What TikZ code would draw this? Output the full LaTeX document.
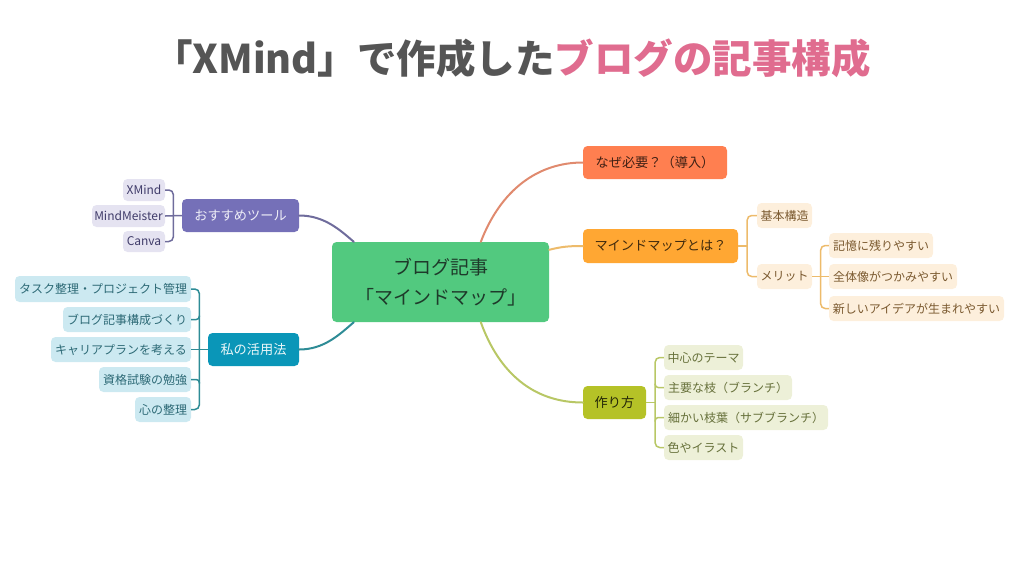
\documentclass[tikz,border=0pt]{standalone}
\usepackage{fontspec}
\setmainfont{Noto Sans CJK JP}
\usetikzlibrary{calc}
\definecolor{ttlgrey}{HTML}{555555}
\definecolor{ttlpink}{HTML}{E06C8F}
\definecolor{cfill}{HTML}{52C97F}
\definecolor{ctext}{HTML}{1E3A2A}
\definecolor{redf}{HTML}{FF7F50}
\definecolor{redl}{HTML}{E08A6E}
\definecolor{ambf}{HTML}{FFA733}
\definecolor{ambl}{HTML}{EDBB6B}
\definecolor{ambs}{HTML}{FDEFDC}
\definecolor{ambt}{HTML}{7B5A30}
\definecolor{olvf}{HTML}{B5C227}
\definecolor{olvl}{HTML}{B8C765}
\definecolor{olvs}{HTML}{EDF0D8}
\definecolor{olvt}{HTML}{66703A}
\definecolor{purf}{HTML}{7570B8}
\definecolor{purl}{HTML}{6F6C9C}
\definecolor{purs}{HTML}{E5E3F1}
\definecolor{purt}{HTML}{403C6A}
\definecolor{telf}{HTML}{0A96B8}
\definecolor{tell}{HTML}{2E8C96}
\definecolor{tels}{HTML}{CCE9F1}
\definecolor{telt}{HTML}{2D6A76}
\tikzset{
  x=1pt,y=-1pt,
  basebox/.style={inner sep=0pt,align=center,rounded corners=4.5pt},
  centerbox/.style={basebox,fill=cfill,text=ctext,font=\fontsize{19}{30}\selectfont},
  branchbox/.style={basebox,font=\fontsize{13.2}{15}\selectfont},
  leafbox/.style={basebox,font=\fontsize{12}{15}\selectfont},
  conn/.style={line width=2pt,line cap=round},
  tree/.style={line width=1.5pt,rounded corners=4.5pt},
}
% name, x1, y1, x2, y2, style, text
\newcommand{\bx}[7]{%
  \pgfmathsetmacro{\bw}{#4-#2}\pgfmathsetmacro{\bh}{#5-#3}%
  \pgfmathsetmacro{\cxx}{(#4+#2)/2}\pgfmathsetmacro{\cyy}{(#5+#3)/2}%
  \node[#6,minimum width=\bw pt,minimum height=\bh pt] (#1) at (\cxx,\cyy) {#7};}
\begin{document}
\begin{tikzpicture}
\useasboundingbox (0,0) rectangle (1024,576);
\node[font=\fontsize{39.5}{48}\selectfont\bfseries,inner sep=0pt] (title) at (512,58)
  {\textcolor{ttlgrey}{「XMind」で作成した}\textcolor{ttlpink}{ブログの記事構成}};
\bx{ctr}{332}{242}{549}{322}{centerbox}{ブログ記事\\「マインドマップ」}
\bx{naze}{583}{146}{727}{179}{branchbox,fill=redf,text=black!75!redf}{なぜ必要？（導入）}
\bx{mm}{583}{229}{738}{263}{branchbox,fill=ambf,text=black!75!ambf}{マインドマップとは？}
\bx{how}{583}{386}{646}{419}{branchbox,fill=olvf,text=black!80!olvf}{作り方}
\bx{tool}{182}{199}{299}{232}{branchbox,fill=purf,text=white!88!purf}{おすすめツール}
\bx{use}{208}{333}{299}{366}{branchbox,fill=telf,text=white!92!telf}{私の活用法}
\bx{xm}{123}{179}{165}{201}{leafbox,fill=purs,text=purt}{XMind}
\bx{mmr}{92}{205}{165}{227}{leafbox,fill=purs,text=purt}{MindMeister}
\bx{can}{123}{231}{165}{252}{leafbox,fill=purs,text=purt}{Canva}
\bx{u1}{15}{276}{191}{302}{leafbox,fill=tels,text=telt}{タスク整理・プロジェクト管理}
\bx{u2}{63}{307}{191}{332}{leafbox,fill=tels,text=telt}{ブログ記事構成づくり}
\bx{u3}{51}{337}{191}{362}{leafbox,fill=tels,text=telt}{キャリアプランを考える}
\bx{u4}{99}{367}{191}{392}{leafbox,fill=tels,text=telt}{資格試験の勉強}
\bx{u5}{135}{397}{191}{422}{leafbox,fill=tels,text=telt}{心の整理}
\bx{kh}{757}{203}{812}{228}{leafbox,fill=ambs,text=ambt}{基本構造}
\bx{mer}{757}{264}{812}{289}{leafbox,fill=ambs,text=ambt}{メリット}
\bx{m1}{829}{233}{933}{258}{leafbox,fill=ambs,text=ambt}{記憶に残りやすい}
\bx{m2}{829}{264}{957}{289}{leafbox,fill=ambs,text=ambt}{全体像がつかみやすい}
\bx{m3}{829}{296}{1004}{321}{leafbox,fill=ambs,text=ambt}{新しいアイデアが生まれやすい}
\bx{h1}{664}{345}{743}{370}{leafbox,fill=olvs,text=olvt}{中心のテーマ}
\bx{h2}{664}{375}{792}{400}{leafbox,fill=olvs,text=olvt}{主要な枝（ブランチ）}
\bx{h3}{664}{405}{828}{430}{leafbox,fill=olvs,text=olvt}{細かい枝葉（サブブランチ）}
\bx{h4}{664}{435}{743}{460}{leafbox,fill=olvs,text=olvt}{色やイラスト}
% main connectors
\draw[conn,redl] ([xshift=149pt]ctr.north west) .. controls +(20,-52) and +(-45,0) .. (naze.west);
\draw[conn,ambl] ([yshift=-8pt]ctr.north east) .. controls +(12,-3) and +(-15,0) .. (mm.west);
\draw[conn,olvl] ([xshift=149pt]ctr.south west) .. controls +(18,50) and +(-50,0) .. (how.west);
\draw[conn,purl] (tool.east) .. controls +(25,0) and +(-14,-12) .. ([xshift=22pt]ctr.north west);
\draw[conn,tell] (use.east) .. controls +(25,0) and +(-14,12) .. ([xshift=22pt]ctr.south west);
% trees: trunk with rounded ends, straight stem from the parent, short stubs for inner leaves
\coordinate (ttool) at ([xshift=-8.5pt]tool.west);
\draw[tree,purl] (xm.east) -| (ttool) |- (can.east);
\draw[tree,purl] (tool.west) -- (mmr.east);
\coordinate (tuse) at ([xshift=-8.5pt]use.west);
\draw[tree,tell] (u1.east) -| (tuse) |- (u5.east);
\draw[tree,tell] (use.west) -- (u3.east);
\draw[tree,tell,rounded corners=3pt] (u2.east) -| ([yshift=4pt]u2.east -| tuse);
\draw[tree,tell,rounded corners=3pt] (u4.east) -| ([yshift=-4pt]u4.east -| tuse);
\coordinate (tmm) at ([xshift=9pt]mm.east);
\draw[tree,ambl] (kh.west) -| (tmm) |- (mer.west);
\draw[tree,ambl] (mm.east) -- (tmm);
\coordinate (tmer) at ([xshift=8.5pt]mer.east);
\draw[tree,ambl] (m1.west) -| (tmer) |- (m3.west);
\draw[tree,ambl] (mer.east) -- (m2.west);
\coordinate (thow) at ([xshift=9pt]how.east);
\draw[tree,olvl] (h1.west) -| (thow) |- (h4.west);
\draw[tree,olvl] (how.east) -- (thow);
\draw[tree,olvl,rounded corners=3pt] (h2.west) -| ([yshift=4pt]h2.west -| thow);
\draw[tree,olvl,rounded corners=3pt] (h3.west) -| ([yshift=-4pt]h3.west -| thow);
\end{tikzpicture}
\end{document}
